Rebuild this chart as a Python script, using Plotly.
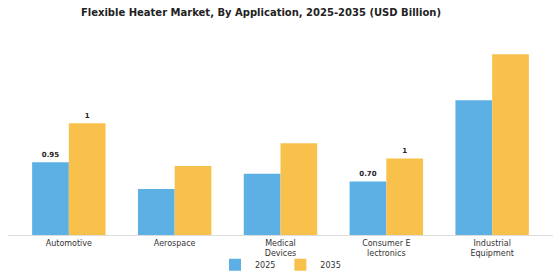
import plotly.graph_objects as go

categories = ["Automotive", "Aerospace", "Medical<br>Devices", "Consumer E<br>lectronics", "Industrial<br>Equipment"]
values_2025 = [0.95, 0.60, 0.80, 0.70, 1.76]
values_2035 = [1.46, 0.90, 1.20, 1.00, 2.36]
labels_2025 = ["<b>0.95</b>", "", "", "<b>0.70</b>", ""]
labels_2035 = ["<b>1</b>", "", "", "<b>1</b>", ""]

BLUE = "#5DB0E4"
YELLOW = "#F8C14B"

fig = go.Figure()
fig.add_trace(go.Bar(
    x=list(range(len(categories))), y=values_2025, name="2025",
    marker=dict(color=BLUE, line=dict(width=0)),
    text=labels_2025, textposition="outside", cliponaxis=False,
    textfont=dict(family="DejaVu Sans", size=7, color="#222"),
))
fig.add_trace(go.Bar(
    x=list(range(len(categories))), y=values_2035, name="2035",
    marker=dict(color=YELLOW, line=dict(width=0)),
    text=labels_2035, textposition="outside", cliponaxis=False,
    textfont=dict(family="DejaVu Sans", size=7, color="#222"),
))

fig.update_layout(
    width=560, height=280,
    margin=dict(l=8, r=7, t=36, b=45, autoexpand=False),
    paper_bgcolor="white", plot_bgcolor="white",
    barmode="group", bargap=0.306, bargroupgap=0,
    title=dict(text="<b>Flexible Heater Market, By Application, 2025-2035 (USD Billion)</b>",
               x=0.466, xanchor="center", y=0.955, yanchor="middle",
               font=dict(family="DejaVu Sans", size=10, color="#222")),
    font=dict(family="DejaVu Sans", size=8, color="#333"),
    xaxis=dict(tickmode="array", tickvals=list(range(len(categories))), ticktext=categories,
               range=[-0.575, 4.575], showgrid=False, showline=True, linecolor="#DDDDDD",
               linewidth=1, ticks="", automargin=False, tickfont=dict(size=8, color="#333")),
    yaxis=dict(range=[0, 2.6], visible=False, showgrid=False, automargin=False),
    legend=dict(orientation="h", x=0.5, xanchor="center", y=-0.15, yanchor="middle",
                bgcolor="rgba(0,0,0,0)",
                font=dict(size=8, color="#333"), itemwidth=30),
    showlegend=True,
)

fig.write_html("out.html")
